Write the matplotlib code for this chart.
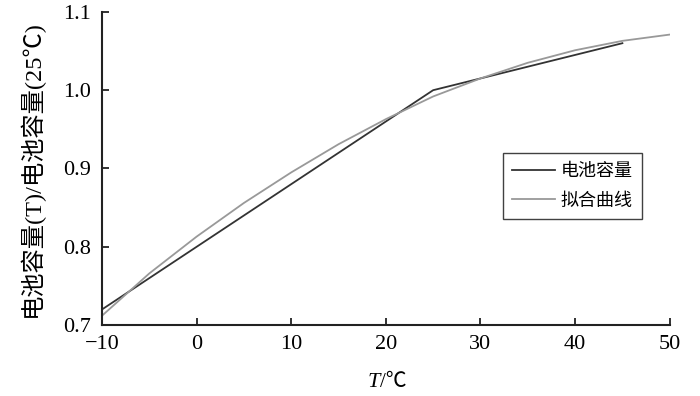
import matplotlib
matplotlib.use("Agg")
import matplotlib.pyplot as plt

# measured battery capacity ratio
temp_meas = [-10, 25, 45]
cap_meas = [0.720, 1.000, 1.060]

# fitted curve
temp_fit = [-10, -5, 0, 5, 10, 15, 20, 25, 30, 35, 40, 45, 50]
cap_fit = [0.712, 0.766, 0.813, 0.856, 0.895, 0.931, 0.963,
           0.992, 1.015, 1.035, 1.051, 1.063, 1.071]

x_ticks = [-10, 0, 10, 20, 30, 40, 50]
y_ticks = [0.7, 0.8, 0.9, 1.0, 1.1]

SERIF = ["Liberation Serif", "Noto Sans CJK SC"]
CJK = ["Noto Sans CJK SC", "DejaVu Sans"]

fig = plt.figure(figsize=(7, 3.96), dpi=100)
ax = fig.add_axes([0.1457, 0.179, 0.811, 0.791])

ax.plot(temp_meas, cap_meas, color="#333333", lw=1.3, label="电池容量")
ax.plot(temp_fit, cap_fit, color="#999999", lw=1.3, label="拟合曲线")

ax.set_xlim(-10, 50)
ax.set_ylim(0.7, 1.1)
ax.set_xticks(x_ticks)
ax.set_xticklabels([str(t).replace("-", "\u2212") for t in x_ticks])
ax.set_yticks(y_ticks)
ax.set_yticklabels([f"{v:.1f}" for v in y_ticks])

for s in ["top", "right"]:
    ax.spines[s].set_visible(False)
for s in ["left", "bottom"]:
    ax.spines[s].set_linewidth(1.5)
    ax.spines[s].set_color("#222222")

ax.tick_params(direction="in", length=5, width=1.3, color="#222222", labelsize=16)
ax.tick_params(axis="y", pad=8)
ax.tick_params(axis="x", pad=7)
for lab in ax.get_xticklabels() + ax.get_yticklabels():
    lab.set_family(SERIF)

ax.set_ylabel("电池容量(T)/电池容量(25℃)", family=SERIF, fontsize=17.5, labelpad=14)

# x label: italic T + /℃
ax.text(0.49, -0.183, "T", transform=ax.transAxes, ha="right", va="center",
        family=SERIF, style="italic", fontsize=16)
ax.text(0.49, -0.183, "/℃", transform=ax.transAxes, ha="left", va="center",
        family=SERIF, fontsize=15)

leg = ax.legend(loc="upper left", bbox_to_anchor=(0.706, 0.550), prop={"family": CJK, "size": 13},
                frameon=True, fancybox=False, handlelength=2.4, handletextpad=0.3,
                borderpad=0.5, labelspacing=0.65, borderaxespad=0)
leg.get_frame().set_edgecolor("#111111")
leg.get_frame().set_linewidth(1.0)

fig.savefig("out.png", dpi=100)
